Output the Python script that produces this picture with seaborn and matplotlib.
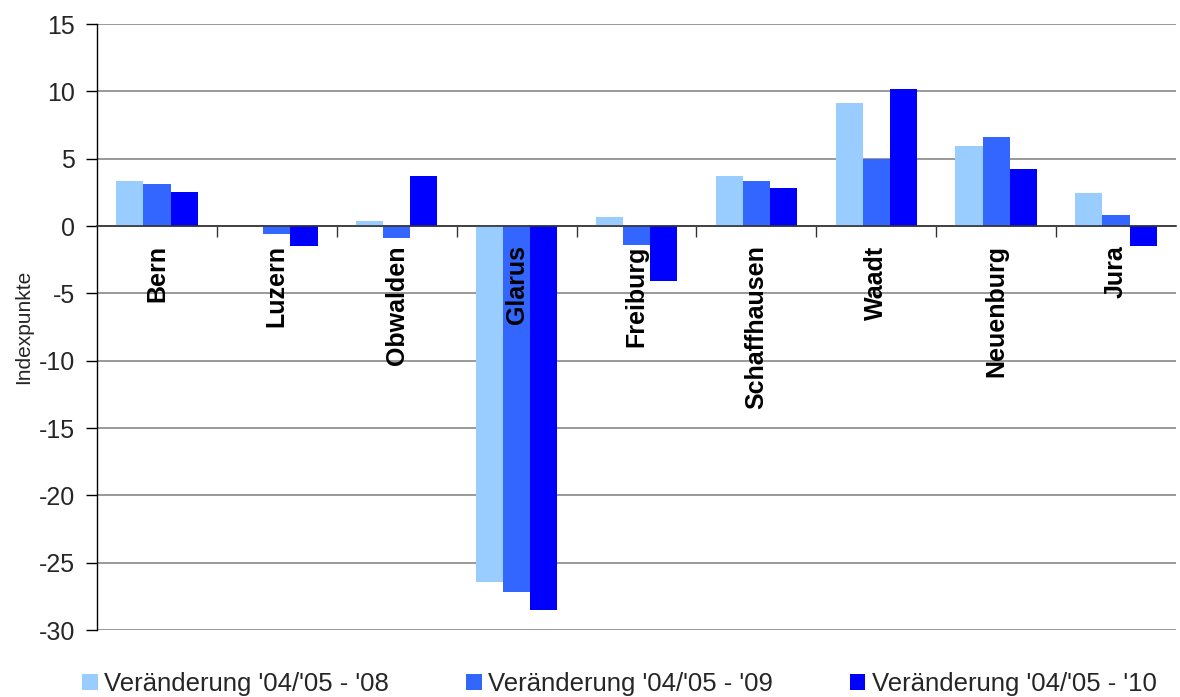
import numpy as np
import pandas as pd
import matplotlib
matplotlib.use("Agg")
import matplotlib.pyplot as plt
import seaborn as sns

categories = ["Bern", "Luzern", "Obwalden", "Glarus", "Freiburg",
              "Schaffhausen", "Waadt", "Neuenburg", "Jura"]
series_names = ["Veränderung '04/'05 - '08", "Veränderung '04/'05 - '09",
                "Veränderung '04/'05 - '10"]
v08 = [3.35, 0.0, 0.4, -26.4, 0.7, 3.7, 9.1, 5.95, 2.45]
v09 = [3.1, -0.6, -0.9, -27.2, -1.4, 3.35, 4.95, 6.6, 0.85]
v10 = [2.55, -1.5, 3.7, -28.55, -4.05, 2.8, 10.2, 4.25, -1.45]
yticks = [15, 10, 5, 0, -5, -10, -15, -20, -25, -30]
colors = ["#99CCFF", "#3366FF", "#0000FF"]

rows = []
for name, vals in zip(series_names, [v08, v09, v10]):
    for c, v in zip(categories, vals):
        rows.append({"Kanton": c, "Serie": name, "Wert": v})
df = pd.DataFrame(rows)

sns.set_style("white")
plt.rcParams["font.family"] = ["Liberation Sans", "DejaVu Sans"]

fig = plt.figure(figsize=(11.8, 6.97), dpi=100)
ax = fig.add_axes([97/1180, 1-630/697, (1176-97)/1180, (630-24)/697])

sns.barplot(data=df, x="Kanton", y="Wert", hue="Serie", order=categories,
            hue_order=series_names, palette=colors, saturation=1,
            width=0.68, gap=0, ax=ax, errorbar=None, legend=True, linewidth=0)

ax.set_ylim(-30, 15)
ax.set_xlim(-0.5, len(categories) - 0.5)
ax.set_yticks(yticks)
ax.set_yticklabels([str(t) for t in yticks], fontsize=18)
ax.yaxis.grid(True, color="#999999", linewidth=1.4)
ax.set_axisbelow(True)
ax.tick_params(axis="y", direction="out", length=8, width=1, color="black", left=True, pad=8)

for s in ["top", "right"]:
    ax.spines[s].set_visible(False)
ax.spines["left"].set_color("black")
ax.spines["left"].set_linewidth(1)
ax.spines["bottom"].set_position(("data", 0))
ax.spines["bottom"].set_color("#333333")
ax.spines["bottom"].set_linewidth(1.2)

ax.set_xticks(np.arange(0.5, len(categories) - 0.5, 1.0))
ax.set_xticklabels([])
ax.tick_params(axis="x", which="major", direction="out", length=8, width=1, color="#333333", bottom=True)

for i, c in enumerate(categories):
    ax.annotate(c, xy=(i, 0), xycoords="data", xytext=(0, -14), textcoords="offset points",
                rotation=90, ha="center", va="top", fontsize=18, fontweight="bold",
                color="black", zorder=10)

ax.set_xlabel("")
ax.set_ylabel("Indexpunkte", fontsize=15, labelpad=4)

handles, labels = ax.get_legend_handles_labels()
ax.legend_.remove()
fig.legend(handles, labels, loc="center", bbox_to_anchor=(0.525, 0.019), ncol=3,
           frameon=False, fontsize=18.5, handlelength=0.6, handleheight=0.6,
           handletextpad=0.25, columnspacing=3.0)

fig.savefig("out.png", dpi=100)
